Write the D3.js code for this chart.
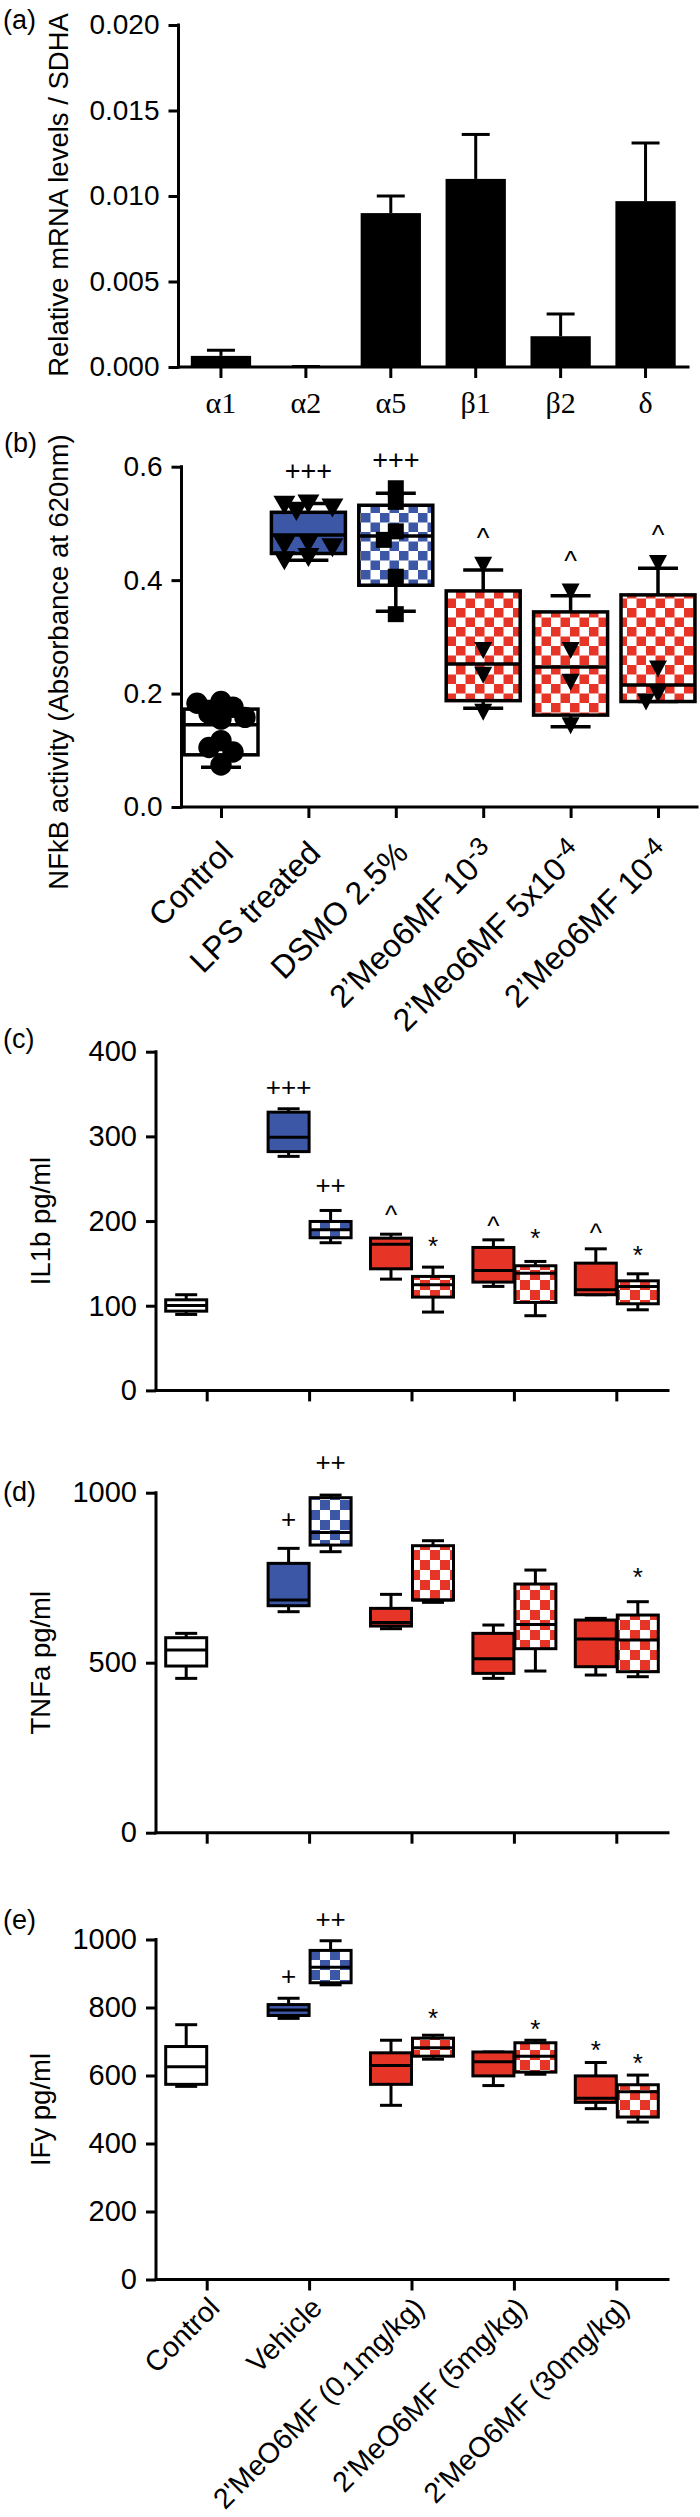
<!DOCTYPE html>
<html><head><meta charset="utf-8">
<script src="https://cdn.jsdelivr.net/npm/d3@7"></script>
<style>body{margin:0;background:#fff}svg{display:block}</style>
</head><body><svg id="fig" width="700" height="2517"></svg>
<script>
// ===================== DATA =====================
// Panel (a)
const aCategories = ["α1","α2","α5","β1","β2","δ"];
const aMeans      = [0.00065, 0.00003, 0.0090, 0.0110, 0.0018, 0.0097];
const aErrTops    = [0.00098, 0.00003, 0.0100, 0.0136, 0.0031, 0.0131];
const aTicks      = [0, 0.005, 0.010, 0.015, 0.020];

// Panel (b)  stats = [min, q1, median, q3, max]
const bLabelBase = ["Control","LPS treated","DSMO 2.5%","2’Meo6MF 10","2’Meo6MF 5x10","2’Meo6MF 10"];
const bLabelSup  = ["","","","-3","-4","-4"];
const bCategories = bLabelBase.map((b,i)=>b+bLabelSup[i]);
const bStats = [
  [0.070, 0.092, 0.145, 0.1726, 0.186],
  [0.435, 0.447, 0.4795, 0.5196, 0.535],
  [0.345, 0.391, 0.478, 0.532, 0.553],
  [0.174, 0.1875, 0.252, 0.381, 0.418],
  [0.1416, 0.162, 0.247, 0.344, 0.3725],
  [0.186, 0.186, 0.215, 0.374, 0.421]
];
const bPoints = [
  [0.186, 0.183, 0.176, 0.165, 0.158, 0.155, 0.117, 0.105, 0.097, 0.074],
  [0.535, 0.533, 0.528, 0.522, 0.466, 0.462, 0.458, 0.441, 0.435],
  [0.562, 0.538, 0.486, 0.471, 0.406, 0.340],
  [0.427, 0.277, 0.233, 0.168],
  [0.380, 0.277, 0.221, 0.144],
  [0.430, 0.244, 0.200, 0.186]
];
const bTicks = [0, 0.2, 0.4, 0.6];
const bAnnotations = [[1,"+++",0.593],[2,"+++",0.612],[3,"^",0.485],[4,"^",0.444],[5,"^",0.490]];

// Panels (c)-(e): shared categories, two series (plain / checkered)
const groupCategories = ["Control","Vehicle","2'MeO6MF (0.1mg/kg)","2'MeO6MF (5mg/kg)","2'MeO6MF (30mg/kg)"];
const cPlain = [
  [89.7, 93.6, 100.3, 107, 113],
  [276.4, 282, 299, 328.6, 332.6],
  [131.4, 143.6, 172.7, 179.8, 184.5],
  [122.8, 127.9, 141.6, 168.8, 177.8],
  [113, 113, 118.8, 150.3, 167.2]
];
const cChecked = [
  null,
  [174.4, 180.3, 189.7, 199.5, 212.5],
  [92.5, 110.2, 124.8, 134.6, 145.6],
  [88.2, 103.9, 138.5, 147.2, 152.3],
  [95.2, 102.3, 122.8, 129.4, 137.7]
];
const cTicks = [0, 100, 200, 300, 400];
const cAnnotations = [[1,"plain","+++",358],[1,"checked","++",242],[2,"plain","^",213],[2,"checked","*",178],
  [3,"plain","^",201],[3,"checked","*",188],[4,"plain","^",192],[4,"checked","*",168]];

const dPlain = [
  [453.9, 490.2, 537.3, 573.5, 586.3],
  [650, 667.6, 684.3, 792.2, 836.3],
  [600, 607.8, 618.6, 659.8, 701],
  [453.9, 468.6, 511.8, 586.3, 610.8],
  [463.7, 488.2, 569.6, 625.5, 630.4]
];
const dChecked = [
  null,
  [826.5, 846, 883.3, 985.3, 993],
  [677.5, 684.3, 684.3, 844.1, 858.8],
  [475.5, 541.2, 612.7, 731.4, 772.5],
  [458.8, 473.5, 566.7, 640.2, 679.4]
];
const dTicks = [0, 500, 1000];
const dAnnotations = [[1,"plain","+",920],[1,"checked","++",1088],[4,"checked","*",772]];

const ePlain = [
  [568, 574, 626, 685.2, 749.4],
  [768, 776.5, 792.6, 808.6, 827.2],
  [512.3, 574, 629.6, 666.7, 703.7],
  [570.4, 598.8, 640.7, 669.1, 669.1],
  [502.5, 521, 533.3, 598.8, 638.3]
];
const eChecked = [
  null,
  [866.7, 872.8, 918.5, 967.9, 996.3],
  [648, 656.8, 681.5, 709.9, 718.5],
  [603.7, 609.9, 656.8, 696.3, 703.7],
  [463, 477.8, 551.9, 572.8, 601.2]
];
const eTicks = [0, 200, 400, 600, 800, 1000];
const eAnnotations = [[1,"plain","+",892],[1,"checked","++",1058],[2,"checked","*",790],
  [3,"checked","*",756],[4,"plain","*",694],[4,"checked","*",657]];

// ===================== DRAWING =====================
const FONT = '"Liberation Sans", Arial, Helvetica, sans-serif';
const SERIF = '"Liberation Serif", "Times New Roman", serif';
const BLUE = "#3c57a6", RED = "#e63427";
const svg = d3.select("#fig");
const defs = svg.append("defs");

function checker(id, color, cell) {
  const p = defs.append("pattern").attr("id", id).attr("patternUnits","userSpaceOnUse")
    .attr("width", 2*cell).attr("height", 2*cell);
  p.append("rect").attr("width",2*cell).attr("height",2*cell).attr("fill","#fff");
  p.append("rect").attr("width",cell).attr("height",cell).attr("fill",color);
  p.append("rect").attr("x",cell).attr("y",cell).attr("width",cell).attr("height",cell).attr("fill",color);
}
checker("chkBlue", BLUE, 9.5);
checker("chkRed", RED, 9.5);
checker("chkBlueS", BLUE, 10);
checker("chkRedS", RED, 10);

function txt(g, s, x, y, size, opts={}) {
  return g.append("text").attr("x",x).attr("y",y).attr("font-size",size)
    .attr("font-family", opts.family || FONT).attr("fill","#000")
    .attr("text-anchor", opts.anchor || "start").text(s);
}

function yAxis(g, y, x0, ticks, fmt, size) {
  const ax = g.append("g").attr("transform",`translate(${x0},0)`)
    .call(d3.axisLeft(y).tickValues(ticks).tickFormat(fmt).tickSize(10).tickSizeOuter(0).tickPadding(9));
  ax.select(".domain").remove();
  ax.selectAll(".tick line").attr("stroke","#000").attr("stroke-width",3);
  ax.selectAll(".tick text").attr("font-size",size).attr("fill","#000").attr("font-family",FONT);
  g.append("line").attr("x1",x0).attr("x2",x0).attr("y1",y.range()[0]).attr("y2",y.range()[1])
    .attr("stroke","#000").attr("stroke-width",3).attr("stroke-linecap","square");
}

function xAxis(g, x, y0, xStart, xEnd) {
  const ax = g.append("g").attr("transform",`translate(0,${y0})`)
    .call(d3.axisBottom(x).tickSize(11).tickSizeOuter(0).tickFormat(""));
  ax.select(".domain").remove();
  ax.selectAll(".tick line").attr("stroke","#000").attr("stroke-width",3);
  g.append("line").attr("x1",xStart).attr("x2",xEnd).attr("y1",y0).attr("y2",y0)
    .attr("stroke","#000").attr("stroke-width",3).attr("stroke-linecap","square");
  return ax;
}

function yTitle(g, s, x, y) {
  g.append("text").attr("transform",`translate(${x},${y}) rotate(-90)`).attr("text-anchor","middle")
    .attr("font-size",27.5).attr("font-family",FONT).attr("fill","#000").text(s);
}

function box(g, cx, w, s, y, fill, capW, sw) {
  const [mn,q1,md,q3,mx] = s;
  const ln = (x1,y1,x2,y2) => g.append("line").attr("x1",x1).attr("y1",y1).attr("x2",x2).attr("y2",y2)
    .attr("stroke","#000").attr("stroke-width",sw);
  ln(cx, y(mx), cx, y(q3));
  ln(cx, y(q1), cx, y(mn));
  ln(cx-capW/2, y(mx), cx+capW/2, y(mx));
  ln(cx-capW/2, y(mn), cx+capW/2, y(mn));
  g.append("rect").attr("x",cx-w/2).attr("y",y(q3)).attr("width",w).attr("height",Math.max(0,y(q1)-y(q3)))
    .attr("fill",fill).attr("stroke","#000").attr("stroke-width",sw);
  ln(cx-w/2, y(md), cx+w/2, y(md));
}

const annotK = {"+":0.33, "++":0.33, "+++":0.33, "^":0.55, "*":0.6};
function annot(g, s, x, yv, size) {
  txt(g, s, x, yv + annotK[s]*size, size, {anchor:"middle"});
}

// ---------- Panel (a) ----------
{
  const g = svg.append("g");
  const y = d3.scaleLinear().domain([0, 0.020]).range([367, 25]);
  const x = d3.scaleBand().domain(aCategories).range([178.5, 688]).paddingInner(0.29).paddingOuter(0.145);
  txt(g, "(a)", 3, 29, 27);
  yTitle(g, "Relative mRNA levels / SDHA", 68, 195);
  aCategories.forEach((c,i) => {
    const cx = x(c) + x.bandwidth()/2;
    g.append("line").attr("x1",cx).attr("x2",cx).attr("y1",y(aMeans[i])).attr("y2",y(aErrTops[i]))
      .attr("stroke","#000").attr("stroke-width",3);
    g.append("line").attr("x1",cx-14).attr("x2",cx+14).attr("y1",y(aErrTops[i])).attr("y2",y(aErrTops[i]))
      .attr("stroke","#000").attr("stroke-width",3);
  });
  g.selectAll("rect.bar").data(aMeans).join("rect").attr("class","bar")
    .attr("x",(d,i)=>x(aCategories[i])).attr("width",x.bandwidth())
    .attr("y",d=>y(d)).attr("height",d=>y(0)-y(d)).attr("fill","#000");
  yAxis(g, y, 178.5, aTicks, d3.format(".3f"), 28);
  xAxis(g, x, 367, 178.5, 688);
  aCategories.forEach(c => txt(g, c, x(c)+x.bandwidth()/2, 413, 30, {anchor:"middle", family:SERIF}));
}

// ---------- Panel (b) ----------
{
  const g = svg.append("g");
  const y = d3.scaleLinear().domain([0, 0.6]).range([807, 466.7]);
  const x = d3.scalePoint().domain(bCategories).range([221, 658]);
  txt(g, "(b)", 4, 452, 27);
  yTitle(g, "NFkB activity (Absorbance at 620nm)", 68, 662);
  const styles = [
    {fill:"#fff", marker:"circle"},
    {fill:BLUE, marker:"triBig"},
    {fill:"url(#chkBlue)", marker:"square"},
    {fill:"url(#chkRed)", marker:"tri"},
    {fill:"url(#chkRed)", marker:"tri"},
    {fill:"url(#chkRed)", marker:"tri"}
  ];
  const markerPath = {
    circle: () => d3.symbol(d3.symbolCircle, 360)(),
    square: () => "M-8,-8H8V8H-8Z",
    triBig: () => "M-11,-9L11,-9L0,10Z",
    tri: () => "M-9,-8L9,-8L0,9Z"
  };
  function swarm(vals, dmin, step) {
    const placed = [];
    return vals.map(v => {
      const py = y(v);
      for (let k = 0; k < 30; k++) {
        const off = k === 0 ? 0 : (k % 2 ? -1 : 1) * Math.ceil(k/2) * step;
        if (placed.every(p => Math.hypot(p[0]-off, p[1]-py) >= dmin)) { placed.push([off,py]); return [off,py]; }
      }
      return [0, py];
    });
  }
  bCategories.forEach((c,i) => {
    const cx = x(c);
    box(g, cx, 74, bStats[i], y, styles[i].fill, 40, 3.5);
    const pos = swarm(bPoints[i], 13, 12);
    pos.forEach(p => g.append("path").attr("d", markerPath[styles[i].marker]())
      .attr("transform",`translate(${cx+p[0]},${p[1]})`).attr("fill","#000"));
  });
  bAnnotations.forEach(a => annot(g, a[1], x(bCategories[a[0]]), y(a[2]), 27));
  yAxis(g, y, 181.5, bTicks, d3.format(".1f"), 28);
  xAxis(g, x, 807, 181.5, 697);
  bCategories.forEach((c,i) => {
    const t = g.append("text").attr("transform",`translate(${x(c)+14},${807+48}) rotate(-45)`)
      .attr("text-anchor","end").attr("font-size",32).attr("font-family",FONT).attr("fill","#000");
    t.append("tspan").text(bLabelBase[i]);
    if (bLabelSup[i]) t.append("tspan").attr("dy","-0.4em").attr("font-size","0.8em").text(bLabelSup[i]);
  });
}

// ---------- Panels (c), (d), (e) ----------
function groupedPanel(cfg) {
  const g = svg.append("g");
  const y = d3.scaleLinear().domain([0, cfg.max]).range([cfg.bottom, cfg.top]);
  const x = d3.scaleBand().domain(groupCategories).range([156, 668]);
  const sub = d3.scaleBand().domain(["plain","checked"]).range([-42, 42]);
  txt(g, cfg.letter, 3, cfg.letterY, 27);
  yTitle(g, cfg.title, 50, (cfg.top + cfg.bottom)/2);
  const plainFill = [ "#fff", BLUE, RED, RED, RED ];
  const chkFill = [ null, "url(#chkBlueS)", "url(#chkRedS)", "url(#chkRedS)", "url(#chkRedS)" ];
  const center = (i, s) => x(groupCategories[i]) + x.bandwidth()/2 + sub(s) + sub.bandwidth()/2;
  groupCategories.forEach((c,i) => {
    box(g, center(i,"plain"), 41, cfg.plain[i], y, plainFill[i], 22, 3);
    if (cfg.checked[i]) box(g, center(i,"checked"), 41, cfg.checked[i], y, chkFill[i], 22, 3);
  });
  cfg.annotations.forEach(a => annot(g, a[2], center(a[0], a[1]), y(a[3]), 26));
  yAxis(g, y, 156, cfg.ticks, d3.format("d"), 29);
  xAxis(g, x, cfg.bottom, 156, 668);
  if (cfg.labels) {
    groupCategories.forEach(c => {
      g.append("text").attr("transform",`translate(${x(c)+x.bandwidth()/2+14},${cfg.bottom+30}) rotate(-45)`)
        .attr("text-anchor","end").attr("font-size",28.5).attr("font-family",FONT).attr("fill","#000").text(c);
    });
  }
}

groupedPanel({letter:"(c)", letterY:1048, title:"IL1b pg/ml", max:400, top:1051.7, bottom:1390.4,
  ticks:cTicks, plain:cPlain, checked:cChecked, annotations:cAnnotations});
groupedPanel({letter:"(d)", letterY:1501, title:"TNFa pg/ml", max:1000, top:1492.7, bottom:1832.7,
  ticks:dTicks, plain:dPlain, checked:dChecked, annotations:dAnnotations});
groupedPanel({letter:"(e)", letterY:1929, title:"IFy pg/ml", max:1000, top:1939.5, bottom:2279.5,
  ticks:eTicks, plain:ePlain, checked:eChecked, annotations:eAnnotations, labels:true});
</script></body></html>
